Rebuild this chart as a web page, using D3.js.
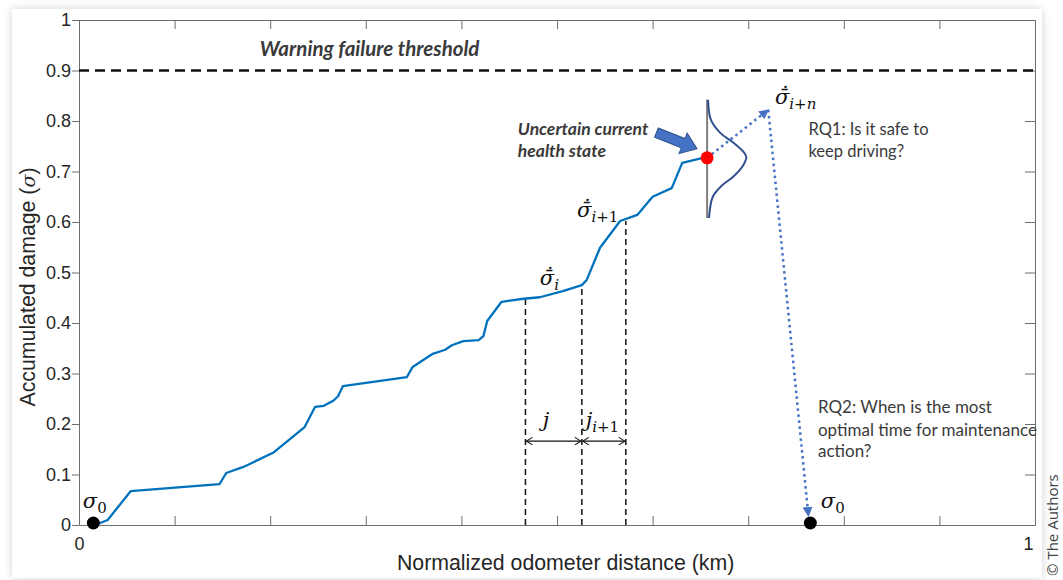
<!DOCTYPE html>
<html>
<head>
<meta charset="utf-8">
<script src="https://cdn.jsdelivr.net/npm/d3@7"></script>
<style>
  html, body { margin: 0; padding: 0; background: #fff; }
  .tick text { font-family: 'Liberation Sans', Arial, sans-serif; font-size: 18px; fill: #262626; }
  .axis path, .axis line { stroke: #6e6e6e; }
  .note { font-family: Lato, 'Open Sans', sans-serif; fill: #3a3a3a; }
  .math { font-family: 'DejaVu Serif', serif; fill: #111; }
</style>
</head>
<body>
<div class="js-container"></div>
<script>
;(function() {
  'use strict';

  // Damage path (normalized distance, accumulated damage)
  var distance = [0.017, 0.030, 0.054, 0.147, 0.154, 0.172, 0.203, 0.236, 0.247, 0.256,
                  0.266, 0.271, 0.276, 0.343, 0.349, 0.370, 0.383, 0.390, 0.402, 0.418,
                  0.423, 0.427, 0.442, 0.465, 0.482, 0.506, 0.526, 0.531, 0.545, 0.566,
                  0.584, 0.600, 0.620, 0.631, 0.657];
  var damage   = [0.000, 0.010, 0.067, 0.081, 0.103, 0.115, 0.143, 0.194, 0.234, 0.236,
                  0.246, 0.255, 0.275, 0.293, 0.313, 0.339, 0.347, 0.356, 0.364, 0.366,
                  0.374, 0.404, 0.442, 0.448, 0.451, 0.463, 0.475, 0.485, 0.549, 0.602,
                  0.614, 0.650, 0.667, 0.717, 0.729];

  var yTicks = [0, 0.1, 0.2, 0.3, 0.4, 0.5, 0.6, 0.7, 0.8, 0.9, 1];
  var xTicks = [0, 0.1, 0.2, 0.3, 0.4, 0.5, 0.6, 0.7, 0.8, 0.9, 1];
  var xTickLabels = [0, 1];

  var threshold = 0.9;

  // Marker states
  var startPoint = [0.015, 0];
  var currentPoint = [0.657, 0.727];
  var predictedPoint = [0.721, 0.822];
  var restorePoint = [0.765, 0];
  var restoreArrowEnd = [0.763, 0.018];

  // Step markers (vertical dashed lines) and where they meet the curve
  var stepX = [0.467, 0.526, 0.572];
  var stepTop = [0.448, 0.475, 0.602];
  var stepArrowY = 0.166;

  // Uncertainty curve around the current state
  var pdfY = [0.842, 0.802, 0.776, 0.758, 0.739, 0.729, 0.713, 0.689, 0.673, 0.650, 0.608];
  var pdfW = [0.001, 0.004, 0.014, 0.027, 0.038, 0.041, 0.038, 0.027, 0.016, 0.006, 0.002];

  var W = 1063, H = 580;
  var margin = {top: 20, right: 28, bottom: 55, left: 79};

  var svg = d3.select('.js-container').append('svg')
      .attr('width', W)
      .attr('height', H);

  var defs = svg.append('defs');

  var shadow = defs.append('filter').attr('id', 'shadow')
      .attr('x', '-5%').attr('y', '-5%').attr('width', '110%').attr('height', '110%');
  shadow.append('feDropShadow')
      .attr('dx', 0).attr('dy', 0).attr('stdDeviation', 4)
      .attr('flood-color', '#000').attr('flood-opacity', 0.18);

  defs.append('marker').attr('id', 'blueHead')
      .attr('viewBox', '0 -5 10 10').attr('refX', 9).attr('refY', 0)
      .attr('markerWidth', 4).attr('markerHeight', 4)
      .attr('markerUnits', 'strokeWidth').attr('orient', 'auto')
    .append('path').attr('d', 'M0,-5L10,0L0,5Z').attr('fill', '#4472c4');

  defs.append('marker').attr('id', 'chevron')
      .attr('viewBox', '-1 -6 12 12').attr('refX', 10).attr('refY', 0)
      .attr('markerWidth', 9).attr('markerHeight', 9)
      .attr('markerUnits', 'userSpaceOnUse').attr('orient', 'auto-start-reverse')
    .append('path').attr('d', 'M2,-5L10,0L2,5')
      .attr('fill', 'none').attr('stroke', '#111').attr('stroke-width', 1.4);

  // Card
  svg.append('rect')
      .attr('x', 12).attr('y', 9)
      .attr('width', 1030).attr('height', 569)
      .attr('fill', '#fff')
      .attr('filter', 'url(#shadow)');

  svg.append('text')
      .attr('transform', 'translate(1058,576) rotate(-90)')
      .attr('font-family', "'Open Sans', sans-serif")
      .attr('font-size', 15)
      .attr('fill', '#444')
      .text('\u00a9 The Authors');

  var x = d3.scaleLinear().domain([0, 1]).range([margin.left, W - margin.right]);
  var y = d3.scaleLinear().domain([0, 1]).range([H - margin.bottom, margin.top]);

  var fmt = d3.format('~g');

  // Axes: MATLAB style box
  svg.append('g').attr('class', 'axis')
      .attr('transform', 'translate(' + x(0) + ',0)')
      .call(d3.axisLeft(y).tickValues(yTicks).tickSize(7).tickSizeOuter(0)
        .tickPadding(1).tickFormat(fmt));

  svg.append('g').attr('class', 'axis')
      .attr('transform', 'translate(0,' + y(0) + ')')
      .call(d3.axisBottom(x).tickValues(xTicks).tickSize(-9).tickSizeOuter(0)
        .tickPadding(12)
        .tickFormat(function(d) { return xTickLabels.indexOf(d) >= 0 ? fmt(d) : ''; }))
      .selectAll('.tick text')
        .attr('dx', function(d) { return d === 1 ? -7 : 0; });

  svg.append('g').attr('class', 'axis')
      .attr('transform', 'translate(0,' + y(1) + ')')
      .call(d3.axisTop(x).tickValues(xTicks).tickSize(-9).tickSizeOuter(0).tickFormat(''));

  svg.append('g').attr('class', 'axis')
      .attr('transform', 'translate(' + x(1) + ',0)')
      .call(d3.axisRight(y).tickValues(yTicks).tickSize(-10).tickSizeOuter(0).tickFormat(''));

  svg.append('text')
      .attr('x', x(0.509))
      .attr('y', 570)
      .attr('text-anchor', 'middle')
      .attr('font-family', "'Liberation Sans', Arial, sans-serif")
      .attr('font-size', 21.3)
      .attr('fill', '#262626')
      .text('Normalized odometer distance (km)');

  var yLabel = svg.append('text')
      .attr('transform', 'translate(35,287) rotate(-90)')
      .attr('text-anchor', 'middle')
      .attr('font-family', "'Liberation Sans', Arial, sans-serif")
      .attr('font-size', 21.3)
      .attr('fill', '#262626');
  yLabel.append('tspan').text('Accumulated damage (');
  yLabel.append('tspan').attr('font-family', "'DejaVu Serif', serif")
      .attr('font-style', 'italic').attr('font-size', 19).text('\u03c3');
  yLabel.append('tspan').text(')');

  // Threshold
  svg.append('line')
      .attr('x1', x(0)).attr('x2', x(1))
      .attr('y1', y(threshold)).attr('y2', y(threshold))
      .attr('stroke', '#111').attr('stroke-width', 2.4)
      .attr('stroke-dasharray', '10,6');

  svg.append('text').attr('class', 'note')
      .attr('x', x(0.189)).attr('y', y(0.929))
      .attr('font-size', 20.5).attr('font-weight', 'bold').attr('font-style', 'italic')
      .attr('fill', '#111')
      .text('Warning failure threshold');

  // Step markers
  svg.selectAll('.step')
      .data(stepX)
    .enter().append('line')
      .classed('step', true)
      .attr('x1', function(d) { return x(d); })
      .attr('x2', function(d) { return x(d); })
      .attr('y1', y(0))
      .attr('y2', function(d, i) { return y(stepTop[i]); })
      .attr('stroke', '#111').attr('stroke-width', 1.5)
      .attr('stroke-dasharray', '6,4');

  for (var s = 0; s < stepX.length - 1; s++) {
    svg.append('line')
        .attr('x1', x(stepX[s]) + 1).attr('x2', x(stepX[s + 1]) - 1)
        .attr('y1', y(stepArrowY)).attr('y2', y(stepArrowY))
        .attr('stroke', '#111').attr('stroke-width', 1.4)
        .attr('marker-start', 'url(#chevron)')
        .attr('marker-end', 'url(#chevron)');
  }

  // Damage curve
  var line = d3.line()
      .x(function(d) { return x(d[0]); })
      .y(function(d) { return y(d[1]); });

  svg.append('path')
      .datum(d3.zip(distance, damage))
      .attr('d', line)
      .attr('fill', 'none')
      .attr('stroke', '#0072bd')
      .attr('stroke-width', 2.3)
      .attr('stroke-linejoin', 'round');

  // Uncertainty distribution
  svg.append('line')
      .attr('x1', x(currentPoint[0])).attr('x2', x(currentPoint[0]))
      .attr('y1', y(pdfY[0])).attr('y2', y(pdfY[pdfY.length - 1]))
      .attr('stroke', '#7f7f7f').attr('stroke-width', 2);

  svg.append('path')
      .datum(d3.zip(pdfW, pdfY))
      .attr('d', d3.line()
        .x(function(d) { return x(currentPoint[0] + d[0]); })
        .y(function(d) { return y(d[1]); })
        .curve(d3.curveCatmullRom))
      .attr('fill', 'none')
      .attr('stroke', '#2f4f8f')
      .attr('stroke-width', 2);

  // Forecast arrows
  svg.append('line')
      .attr('x1', x(currentPoint[0])).attr('y1', y(currentPoint[1]))
      .attr('x2', x(predictedPoint[0])).attr('y2', y(predictedPoint[1]))
      .attr('stroke', '#4472c4').attr('stroke-width', 2.5)
      .attr('stroke-dasharray', '2.5,3.5')
      .attr('marker-end', 'url(#blueHead)');

  svg.append('line')
      .attr('x1', x(predictedPoint[0])).attr('y1', y(predictedPoint[1]))
      .attr('x2', x(restoreArrowEnd[0])).attr('y2', y(restoreArrowEnd[1]))
      .attr('stroke', '#4472c4').attr('stroke-width', 2.5)
      .attr('stroke-dasharray', '2.5,3.5')
      .attr('marker-end', 'url(#blueHead)');

  // Points
  svg.append('circle')
      .attr('cx', x(currentPoint[0])).attr('cy', y(currentPoint[1]))
      .attr('r', 6.5).attr('fill', '#ff0000');

  svg.selectAll('.state')
      .data([startPoint, restorePoint])
    .enter().append('circle')
      .classed('state', true)
      .attr('cx', function(d) { return x(d[0]); })
      .attr('cy', function(d) { return y(d[1]) - 2; })
      .attr('r', 6.5)
      .attr('fill', '#000');

  // Block arrow pointing at the current state
  var arrowTail = [0.604, 0.777], arrowTip = [0.6465, 0.745];
  var ax0 = x(arrowTail[0]), ay0 = y(arrowTail[1]);
  var ax1 = x(arrowTip[0]), ay1 = y(arrowTip[1]);
  var len = Math.sqrt((ax1 - ax0) * (ax1 - ax0) + (ay1 - ay0) * (ay1 - ay0));
  var ang = Math.atan2(ay1 - ay0, ax1 - ax0) * 180 / Math.PI;
  var hl = 15;
  svg.append('path')
      .attr('transform', 'translate(' + ax0 + ',' + ay0 + ') rotate(' + ang + ')')
      .attr('d', 'M0,-5L' + (len - hl) + ',-5L' + (len - hl) + ',-11L' + len + ',0L' +
                 (len - hl) + ',11L' + (len - hl) + ',5L0,5Z')
      .attr('fill', '#4472c4')
      .attr('stroke', '#2f528f')
      .attr('stroke-width', 1);

  // Notes
  function noteLines(lines, px, pys, opts) {
    var t = svg.append('g');
    lines.forEach(function(txt, i) {
      var el = t.append('text').attr('class', 'note')
          .attr('x', x(px)).attr('y', y(pys[i]))
          .attr('font-size', opts.size)
          .text(txt);
      if (opts.bold) el.attr('font-weight', 'bold').attr('font-style', 'italic').attr('fill', '#111');
    });
  }

  noteLines(['Uncertain current', 'health state'], 0.459, [0.772, 0.729], {size: 17.5, bold: true});
  noteLines(['RQ1: Is it safe to', 'keep driving?'], 0.763, [0.772, 0.729], {size: 16.5});
  noteLines(['RQ2: When is the most', 'optimal time for maintenance', 'action?'],
            0.773, [0.222, 0.176, 0.135], {size: 17});

  // Math labels
  function mathLabel(px, py, base, sub, subItalic, accent) {
    var t = svg.append('text').attr('class', 'math')
        .attr('x', x(px)).attr('y', y(py))
        .attr('font-size', 21);
    t.append('tspan').attr('font-style', 'italic')
        .text(base + (accent ? '\u0304\u0307' : ''));
    if (sub) {
      var parts = sub.split('');
      var first = true;
      parts.forEach(function(ch) {
        var isLetter = /[a-z]/.test(ch);
        var ts = t.append('tspan')
            .attr('font-size', 15)
            .attr('font-style', isLetter && subItalic ? 'italic' : 'normal')
            .text(ch);
        if (first) { ts.attr('dy', 5); first = false; }
      });
    }
  }

  mathLabel(0.004, 0.034, '\u03c3', '0', false, false);
  mathLabel(0.776, 0.034, '\u03c3', '0', false, false);
  mathLabel(0.482, 0.475, '\u03c3', 'i', true, true);
  mathLabel(0.521, 0.610, '\u03c3', 'i+1', true, true);
  mathLabel(0.728, 0.834, '\u03c3', 'i+n', true, true);
  mathLabel(0.485, 0.194, 'j', '', true, false);
  mathLabel(0.530, 0.194, 'j', 'i+1', true, false);

}());
</script>
</body>
</html>
